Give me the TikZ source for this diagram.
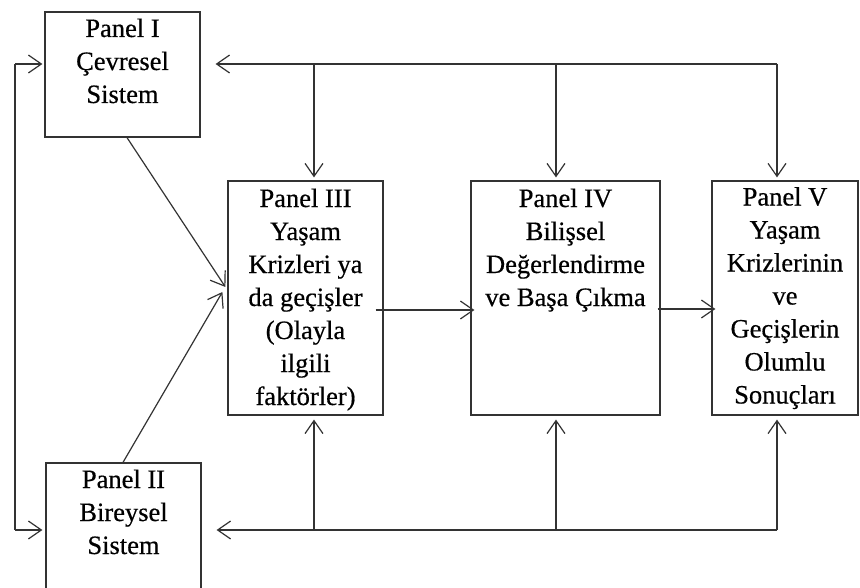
\documentclass[tikz,border=0pt]{standalone}
\usepackage{fontspec}
\setmainfont{Liberation Serif}
\newfontfamily\panelfont{Liberation Serif}[FakeBold=0.5]
\usetikzlibrary{arrows.meta}

\tikzset{
  panel/.style={draw=black!80, line width=1.2pt, inner sep=0pt, minimum width=#1},
  paneltext/.style={anchor=base, align=center, inner sep=0pt,
    font=\panelfont\fontsize{26.5}{33}\selectfont},
  link/.style={draw=black!80, line width=1.2pt,
    -{Straight Barb[length=13pt, width=18pt, line width=1.2pt]}},
  wire/.style={draw=black!80, line width=1.2pt},
}

\begin{document}
\begin{tikzpicture}[x=1pt, y=-1pt]
  \clip (0,0) rectangle (860,588);
  \fill[white] (0,0) rectangle (860,588);

  % panels (boxes)
  \node[panel=155pt, minimum height=125pt] (I)   at (122.5,74.5)  {};
  \node[panel=155pt, minimum height=129pt] (II)  at (123.5,527.5) {};
  \node[panel=155pt, minimum height=234pt] (III) at (305.5,298)   {};
  \node[panel=189pt, minimum height=234pt] (IV)  at (565.5,298)   {};
  \node[panel=146pt, minimum height=234pt] (V)   at (785,298)     {};

  % panel labels, placed by the baseline of their last line
  \node[paneltext] (tI)   at (122.5,103)  {Panel I\\Çevresel\\Sistem};
  \node[paneltext] (tII)  at (123.5,554)  {Panel II\\Bireysel\\Sistem};
  \node[paneltext] (tIII) at (305.5,405)  {Panel III\\Yaşam\\Krizleri ya\\da geçişler\\(Olayla\\ilgili\\faktörler)};
  \node[paneltext] (tIV)  at (565.5,306)  {Panel IV\\Bilişsel\\Değerlendirme\\ve Başa Çıkma};
  \node[paneltext] (tV)   at (785,403.5)  {Panel V\\Yaşam\\Krizlerinin\\ve\\Geçişlerin\\Olumlu\\Sonuçları};

  % junction points of the upper and lower buses
  \coordinate (uIII) at (314,64);
  \coordinate (uIV)  at (556,64);
  \coordinate (uV)   at (777,64);
  \coordinate (dIII) at (314,530);
  \coordinate (dIV)  at (556,530);
  \coordinate (dV)   at (777,530);
  \coordinate (lu)   at (15,64);
  \coordinate (ld)   at (15,530);

  % upper bus: feedback into Panel I and down into III, IV, V
  \draw[link] (uV) -- ([xshift=15pt]I.east |- uV);
  \draw[link] (uIII) -- ([yshift=3pt]III.north -| uIII);
  \draw[link] (uIV)  -- ([yshift=3pt]IV.north -| uIV);
  \draw[link] (uV)   -- ([yshift=3pt]V.north -| uV);

  % lower bus: feedback into Panel II and up into III, IV, V
  \draw[link] (dV) -- ([xshift=15pt]II.east |- dV);
  \draw[link] (dIII) -- ([yshift=-4pt]III.south -| dIII);
  \draw[link] (dIV)  -- ([yshift=-4pt]IV.south -| dIV);
  \draw[link] (dV)   -- ([yshift=-4pt]V.south -| dV);

  % left loop joining Panel I and Panel II
  \draw[wire] (lu) -- (ld);
  \draw[link] (lu) -- ([xshift=-2pt]I.west |- lu);
  \draw[link] (ld) -- ([xshift=-3pt]II.west |- ld);

  % Panels I and II feed Panel III
  \draw[link] ([xshift=4.5pt]I.south) -- ([xshift=-2pt,yshift=11pt]III.west);
  \draw[link] ([xshift=-0.5pt]II.north) -- ([xshift=-5pt,yshift=6pt]III.west);

  % main chain III -> IV -> V
  \draw[link] ([xshift=-8pt,yshift=-12pt]III.east) -- ([xshift=4pt,yshift=-12pt]IV.west);
  \draw[link] ([xshift=-3pt,yshift=-11pt]IV.east) -- ([xshift=4pt,yshift=-11pt]V.west);
\end{tikzpicture}
\end{document}
